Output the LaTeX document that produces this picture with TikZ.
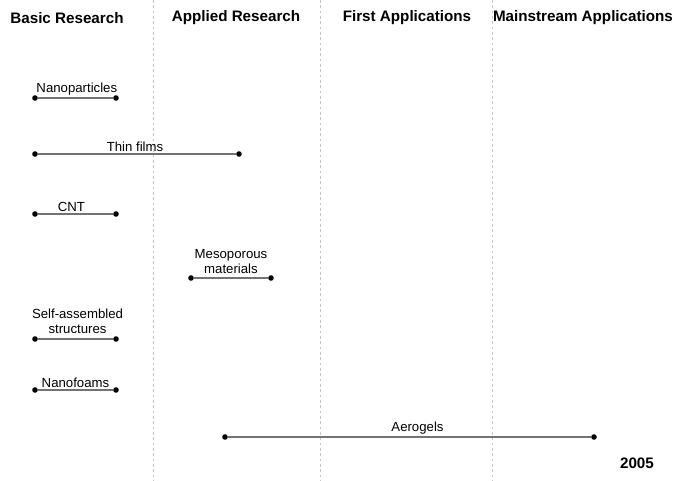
\documentclass[tikz,border=0pt]{standalone}
\usepackage{fontspec}
\setmainfont{Liberation Sans}
\begin{document}
\begin{tikzpicture}[x=0.75pt,y=-0.75pt,
  dot/.style={circle,fill=black,inner sep=0pt,minimum size=4.2pt},
  bar/.style={black!55,line width=0.9pt},
  lbl/.style={text=black,font=\fontsize{9.9}{11.6}\selectfont,align=center,above,inner sep=1.5pt},
  hdr/.style={font=\bfseries\fontsize{11.4}{13}\selectfont}]
\useasboundingbox (0,0) rectangle (676,481);
\foreach \x in {153,320,492} \draw[black!22,dash pattern=on 2pt off 2pt] (\x,0) -- (\x,481);
\node[hdr] (basic) at (67,18) {Basic Research};
\node[hdr] (applied) at (236,18) {Applied Research};
\node[hdr] (first) at (407,18) {First Applications};
\node[hdr] (main) at (583,18) {Mainstream Applications};
\node[dot] (np1) at (35,98) {}; \node[dot] (np2) at (116,98) {};
\draw[bar] (np1) -- node[lbl,xshift=1pt] {Nanoparticles} (np2);
\node[dot] (tf1) at (35,154) {}; \node[dot] (tf2) at (239,154) {};
\draw[bar] (tf1) -- node[lbl,xshift=-1.5pt] {Thin films} (tf2);
\node[dot] (cnt1) at (35,214) {}; \node[dot] (cnt2) at (116,214) {};
\draw[bar] (cnt1) -- node[lbl,xshift=-3pt] {CNT} (cnt2);
\node[dot] (mm1) at (191,278) {}; \node[dot] (mm2) at (271,278) {};
\draw[bar] (mm1) -- node[lbl,yshift=1pt] {Mesoporous\\materials} (mm2);
\node[dot] (sa1) at (35,339) {}; \node[dot] (sa2) at (116,339) {};
\draw[bar] (sa1) -- node[lbl,xshift=1.5pt,yshift=2pt] {Self-assembled\\structures} (sa2);
\node[dot] (nf1) at (35,390) {}; \node[dot] (nf2) at (116,390) {};
\draw[bar] (nf1) -- node[lbl] {Nanofoams} (nf2);
\node[dot] (ag1) at (225,437) {}; \node[dot] (ag2) at (594,437) {};
\draw[bar] (ag1) -- node[lbl,xshift=6pt] {Aerogels} (ag2);
\node[hdr] (year) at (637,463) {2005};
\end{tikzpicture}
\end{document}
